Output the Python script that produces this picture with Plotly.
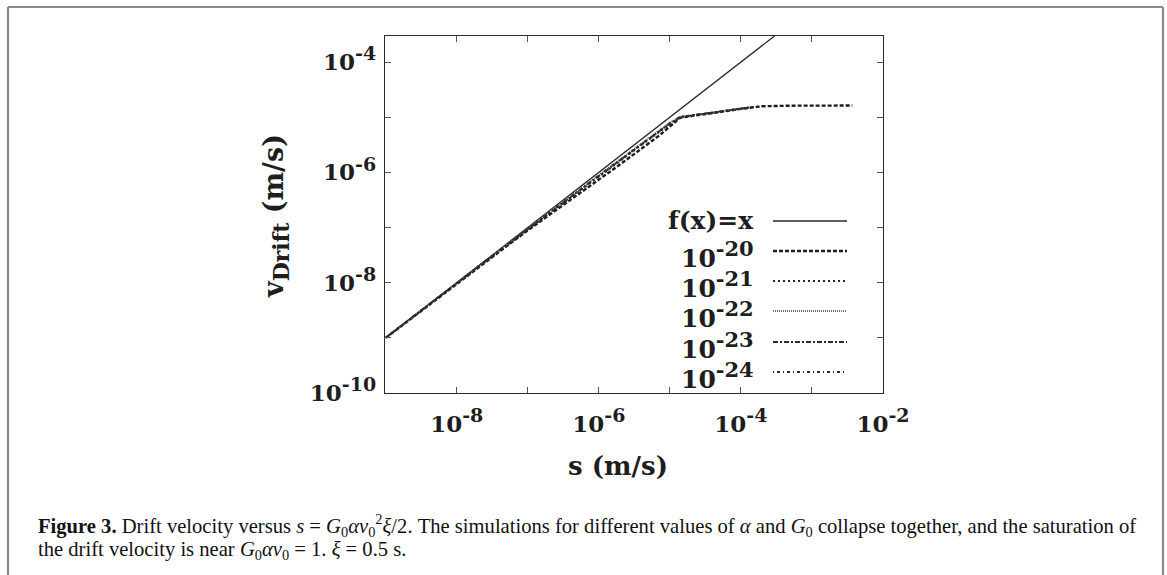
import plotly.graph_objects as go

# ---------------- data ----------------
s_grid = [1e-9, 2e-9, 5e-9, 1e-8, 2e-8, 5e-8, 1e-7, 2e-7, 4e-7, 7e-7, 1e-6, 2e-6, 4e-6,
          7e-6, 1e-5, 1.4e-5, 2e-5, 3e-5, 5e-5, 1e-4, 1.5e-4, 2e-4, 5e-4, 1e-3, 2e-3, 3.7e-3]

fx_s = [1e-9, 1e-2]
fx_v = [1e-9, 1e-2]

v_20 = [1.0e-9, 1.98e-9, 4.85e-9, 0.96e-8, 1.88e-8, 4.55e-8, 0.89e-7, 1.7e-7, 3.2e-7, 5.4e-7,
        7.4e-7, 1.4e-6, 2.65e-6, 4.6e-6, 6.8e-6, 9.8e-6, 1.05e-5, 1.12e-5, 1.24e-5, 1.42e-5,
        1.53e-5, 1.58e-5, 1.62e-5, 1.63e-5, 1.63e-5, 1.63e-5]
v_21 = [1.0e-9, 2.0e-9, 4.9e-9, 0.97e-8, 1.92e-8, 4.7e-8, 0.93e-7, 1.8e-7, 3.45e-7, 5.9e-7,
        8.3e-7, 1.6e-6, 3.05e-6, 5.2e-6, 7.5e-6, 1.0e-5, 1.07e-5, 1.14e-5, 1.26e-5, 1.44e-5,
        1.54e-5, 1.59e-5]
v_22 = [1.02e-9, 2.03e-9, 5.0e-9, 1.0e-8, 1.97e-8, 4.85e-8, 0.97e-7, 1.9e-7, 3.7e-7, 6.4e-7,
        9.0e-7, 1.74e-6, 3.35e-6, 5.7e-6, 8.0e-6, 1.03e-5, 1.08e-5, 1.15e-5, 1.27e-5, 1.45e-5]
v_23 = [1.0e-9, 2.0e-9, 4.95e-9, 0.98e-8, 1.94e-8, 4.75e-8, 0.94e-7, 1.83e-7, 3.55e-7, 6.1e-7,
        8.6e-7, 1.66e-6, 3.2e-6, 5.45e-6, 7.7e-6, 1.01e-5, 1.08e-5, 1.15e-5, 1.27e-5, 1.45e-5,
        1.54e-5]
v_24 = [1.01e-9, 2.02e-9, 5.0e-9, 0.99e-8, 1.96e-8, 4.8e-8, 0.95e-7, 1.86e-7, 3.62e-7, 6.25e-7,
        8.8e-7, 1.7e-6, 3.28e-6, 5.55e-6, 7.85e-6, 1.02e-5, 1.08e-5, 1.14e-5, 1.26e-5, 1.44e-5]

legend_bases = ["f(x)=x", "10", "10", "10", "10", "10"]
legend_exps = ["", "-20", "-21", "-22", "-23", "-24"]

x_tickvals = [1e-9, 1e-8, 1e-7, 1e-6, 1e-5, 1e-4, 1e-3, 1e-2]
x_tickexp = ["", "-8", "", "-6", "", "-4", "", "-2"]
y_tickvals = [1e-10, 1e-9, 1e-8, 1e-7, 1e-6, 1e-5, 1e-4]
y_tickexp = ["-10", "", "-8", "", "-6", "", "-4"]

# ---------------- styles ----------------
W, H = 1167, 575
L, R, T, B = 385, 883, 36, 393
FONT = "DejaVu Serif"
INK = "#1e1e1e"


def sup_label(base, exp, sup_px):
    if not exp:
        return base
    return '%s<sup><span style="font-size:%dpx">%s</span></sup>' % (base, sup_px, exp)


x_ticktext = [sup_label("10", e, 19) if e else "" for e in x_tickexp]
y_ticktext = [sup_label("10", e, 19) if e else "" for e in y_tickexp]
legend_labels = [sup_label(b, e, 21) for b, e in zip(legend_bases, legend_exps)]

styles = [
    dict(color="#2a2a2a", width=1.3, dash="solid"),
    dict(color="#1e1e1e", width=2.4, dash="4px,2px"),
    dict(color="#2a2a2a", width=1.8, dash="2px,3px"),
    dict(color="#707070", width=1.8, dash="1px,1px"),
    dict(color="#2a2a2a", width=1.8, dash="5px,2px,2px,2px"),
    dict(color="#2a2a2a", width=1.8, dash="1px,3px,3px,3px"),
]

series = [(fx_s, fx_v)] + [(s_grid[:len(v)], v) for v in (v_20, v_21, v_22, v_23, v_24)]


def px(xp):
    return (xp - L) / (R - L)


def py(yp):
    return (B - yp) / (B - T)


fig = go.Figure()
for (xs, ys), st, name in zip(series, styles, legend_labels):
    fig.add_trace(go.Scatter(x=xs, y=ys, mode="lines", line=st, name=name, showlegend=False,
                             hoverinfo="skip"))

axis_common = dict(
    type="log", showgrid=False, zeroline=False, showline=True, linecolor="#2a2a2a",
    linewidth=1.4, mirror="ticks", ticks="inside", ticklen=6, tickcolor="#555555",
    tickwidth=1, tickfont=dict(family=FONT, size=23, color=INK, weight="bold"),
)

fig.update_layout(
    width=W, height=H,
    margin=dict(l=L, r=W - R, t=T, b=H - B, autoexpand=False),
    paper_bgcolor="white", plot_bgcolor="white",
    xaxis=dict(axis_common, range=[-9.01, -2.0], tickvals=x_tickvals, ticktext=x_ticktext,
               ticklabelstandoff=10),
    yaxis=dict(axis_common, range=[-10, -3.527], tickvals=y_tickvals, ticktext=y_ticktext,
               ticklabelstandoff=3),
    showlegend=False,
)

annotations = []
shapes = []

# gnuplot-style key: text on the left, line sample on the right
legend_rows = [221, 251, 281, 311, 342, 372]
for lab, st, yr, e in zip(legend_labels, styles, legend_rows, legend_exps):
    dy = 3 if e else 0
    annotations.append(dict(
        xref="paper", yref="paper", x=px(756), y=py(yr + dy), text="<b>%s</b>" % lab,
        showarrow=False, xanchor="right", yanchor="middle",
        font=dict(family=FONT, size=25, color=INK)))
    shapes.append(dict(type="line", xref="paper", yref="paper",
                       x0=px(773), x1=px(847), y0=py(yr), y1=py(yr), line=st))

# axis titles
annotations.append(dict(xref="paper", yref="paper", x=px(618), y=py(466),
                        text="<b>s (m/s)</b>", showarrow=False, xanchor="center", yanchor="middle",
                        font=dict(family=FONT, size=26, color=INK)))
annotations.append(dict(xref="paper", yref="paper", x=px(276), y=py(216),
                        text='<b>v<sub><span style="font-size:22px">Drift</span></sub> (m/s)</b>',
                        showarrow=False, textangle=-90,
                        xanchor="center", yanchor="middle",
                        font=dict(family=FONT, size=27, color=INK)))

# caption
cap1 = ("<b>Figure 3.</b> Drift velocity versus <i>s</i> = <i>G</i><sub>0</sub><i>αv</i>"
        "<sub>0</sub><sup>2</sup><i>ξ</i>/2. The simulations for different values of <i>α</i> and "
        "<i>G</i><sub>0</sub> collapse together, and the saturation of")
cap2 = "the drift velocity is near <i>G</i><sub>0</sub><i>αv</i><sub>0</sub> = 1. <i>ξ</i> = 0.5 s."
for txt, yc in ((cap1, 525), (cap2, 550)):
    annotations.append(dict(xref="paper", yref="paper", x=px(36), y=py(yc), text=txt,
                            showarrow=False, xanchor="left", yanchor="middle",
                            font=dict(family="Liberation Serif", size=20.6, color="#111111")))

# outer figure frame (open at bottom)
frame = dict(color="#8a8a8a", width=2.2)
for x0, y0, x1, y1 in ((8, 7, 1163, 7), (8, 7, 8, 600), (1163, 7, 1163, 600)):
    shapes.append(dict(type="line", xref="paper", yref="paper",
                       x0=px(x0), x1=px(x1), y0=py(y0), y1=py(y1), line=frame))

fig.update_layout(annotations=annotations, shapes=shapes)
fig.write_html("out.html", config={"displayModeBar": False},
               post_script="document.body.style.margin='0px';document.body.style.overflow='hidden';")
